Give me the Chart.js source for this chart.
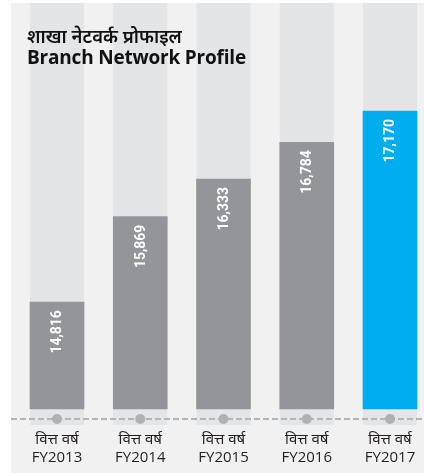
<!DOCTYPE html>
<html>
<head>
<meta charset="utf-8">
<script src="https://cdn.jsdelivr.net/npm/chart.js@4.4.1/dist/chart.umd.min.js"></script>
<style>
  html, body { margin: 0; padding: 0; background: #ffffff; }
  #wrap { position: relative; width: 424px; height: 473px; }
  #c { position: absolute; left: 0; top: 0; }
  .t1 { position: absolute; left: 27px; top: 25px; font-family: "Noto Sans", "Open Sans", sans-serif; font-size: 18.5px; font-weight: 600; color: #111; white-space: nowrap; line-height: 22px; }
  .t2 { position: absolute; left: 27px; top: 45px; font-family: "Open Sans", "Noto Sans", sans-serif; font-size: 19px; font-weight: 700; color: #111; white-space: nowrap; line-height: 24px; letter-spacing: -0.2px; }
</style>
</head>
<body>
<div id="wrap">
  <canvas id="c" width="424" height="473"></canvas>
  <div class="t1">शाखा नेटवर्क प्रोफाइल</div>
  <div class="t2">Branch Network Profile</div>
</div>
<script>
const categoriesHindi = ["वित्त वर्ष", "वित्त वर्ष", "वित्त वर्ष", "वित्त वर्ष", "वित्त वर्ष"];
const categoriesFY = ["FY2013", "FY2014", "FY2015", "FY2016", "FY2017"];
const branches = [14816, 15869, 16333, 16784, 17170];
const barColors = ["#939598", "#939598", "#939598", "#939598", "#00aeef"];
const axisMin = 13500;
const axisMax = 18500;

const labels = categoriesFY.map((fy, i) => [categoriesHindi[i], fy]);

const decor = {
  id: "decor",
  beforeDraw(chart) {
    const ctx = chart.ctx;
    ctx.save();
    ctx.fillStyle = "#f1f1f1";
    ctx.fillRect(11, 3, chart.width - 11, chart.height - 3);
    ctx.restore();
  },
  beforeDatasetsDraw(chart) {
    const ctx = chart.ctx;
    const xs = chart.scales.x;
    const area = chart.chartArea;
    ctx.save();
    ctx.fillStyle = "#e4e5e7";
    branches.forEach((v, i) => {
      const x = xs.getPixelForValue(i);
      ctx.fillRect(x - 27, area.top, 54, area.bottom + 16 - area.top);
    });
    const ly = area.bottom + 10;
    ctx.strokeStyle = "#b3b4b6";
    ctx.lineWidth = 2;
    ctx.setLineDash([6, 3]);
    ctx.beginPath();
    ctx.moveTo(11, ly);
    ctx.lineTo(chart.width, ly);
    ctx.stroke();
    ctx.setLineDash([]);
    ctx.fillStyle = "#b0b1b3";
    branches.forEach((v, i) => {
      const x = xs.getPixelForValue(i);
      ctx.beginPath();
      ctx.arc(x, ly, 5, 0, Math.PI * 2);
      ctx.fill();
    });
    ctx.restore();
  },
  afterDatasetsDraw(chart) {
    const ctx = chart.ctx;
    const meta = chart.getDatasetMeta(0);
    ctx.save();
    ctx.fillStyle = "#ffffff";
    ctx.font = "bold 15px Roboto, 'Liberation Sans', sans-serif";
    ctx.textAlign = "right";
    ctx.textBaseline = "middle";
    meta.data.forEach((bar, i) => {
      ctx.save();
      ctx.translate(bar.x + 0.5, bar.y + 8);
      ctx.rotate(-Math.PI / 2);
      ctx.scale(0.93, 1);
      ctx.fillText(branches[i].toLocaleString("en-US"), 0, 0);
      ctx.restore();
    });
    ctx.restore();
  }
};

new Chart(document.getElementById("c"), {
  type: "bar",
  data: {
    labels: labels,
    datasets: [{
      data: branches,
      base: axisMin,
      backgroundColor: barColors,
      borderWidth: 0,
      barThickness: 54,
      clip: false
    }]
  },
  options: {
    responsive: false,
    animation: false,
    layout: { padding: { left: 57, right: 34, top: 3, bottom: 0 } },
    plugins: { legend: { display: false }, tooltip: { enabled: false }, title: { display: false } },
    scales: {
      x: {
        type: "category",
        offset: false,
        grid: { display: false, drawTicks: false },
        border: { display: false },
        ticks: {
          autoSkip: false,
          maxRotation: 0,
          minRotation: 0,
          padding: 22,
          color: "#231f20",
          font: { family: "'Open Sans', 'Noto Sans', sans-serif", size: 15, lineHeight: 1.2 }
        },
        afterFit: s => { s.height = 64; s.paddingLeft = 0; s.paddingRight = 0; }
      },
      y: {
        display: false,
        min: axisMin,
        max: axisMax
      }
    }
  },
  plugins: [decor]
});
</script>
</body>
</html>
